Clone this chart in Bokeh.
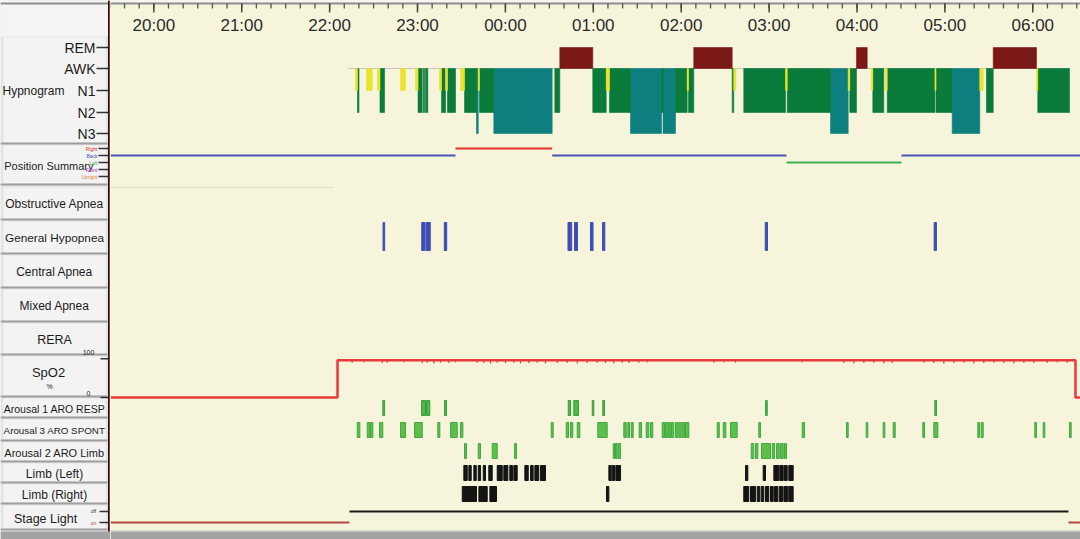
from bokeh.plotting import figure
from bokeh.layouts import row
from bokeh.models import Range1d
from bokeh.core.properties import value
from bokeh.embed import file_html
from bokeh.resources import INLINE

# ---------------- data (clock hours; values > 24 are after midnight) ----------------
rec_start, rec_end = 19.507, 30.543
hour_ticks = [20, 21, 22, 23, 24, 25, 26, 27, 28, 29, 30]
hour_labels = ["20:00", "21:00", "22:00", "23:00", "00:00", "01:00",
               "02:00", "03:00", "04:00", "05:00", "06:00"]

stage_names = ["REM", "AWK", "N1", "N2", "N3"]
hyp_start = [22.215, 22.295, 22.317, 22.334, 22.420, 22.485, 22.545, 22.573, 22.625, 22.807,
             22.864, 22.977, 23.006, 23.053, 23.065, 23.080, 23.091, 23.117, 23.250, 23.273,
             23.319, 23.341, 23.432, 23.489, 23.535, 23.671, 23.691, 23.705, 23.868, 24.532,
             24.562, 24.619, 24.994, 25.147, 25.184, 25.423, 25.776, 25.793, 25.935, 26.068,
             26.083, 26.143, 26.580, 26.598, 26.623, 26.712, 27.187, 27.206, 27.699, 27.900,
             27.918, 27.994, 28.116, 28.162, 28.180, 28.305, 28.324, 28.344, 28.887, 28.899,
             29.083, 29.397, 29.436, 29.473, 29.550, 30.042, 30.057]
hyp_stage = ["AWK", "N1", "N2", "AWK", "N1", "AWK", "N1", "N2", "AWK", "N1",
             "AWK", "N1", "N2", "AWK", "N2", "AWK", "N2", "AWK", "N1", "N2",
             "N1", "N2", "AWK", "N1", "N2", "N3", "N1", "N2", "N3", "AWK",
             "N2", "REM", "N2", "N1", "N2", "N3", "N2", "N3", "N2", "N1",
             "N2", "REM", "N2", "N1", "AWK", "N2", "N1", "N2", "N3", "N1",
             "N2", "REM", "AWK", "N1", "N2", "AWK", "N1", "N2", "N1", "N2",
             "N3", "N1", "AWK", "N2", "REM", "N1", "N2"]
hyp_end = 30.418

position_names = ["Right", "Back", "Left", "Front", "Upright"]
pos_start = [rec_start, 23.432, 24.532, 27.198, 28.506]
pos_value = ["Back", "Right", "Back", "Left", "Back"]

hypopnea = [(22.608, 22.626), (23.048, 23.085), (23.097, 23.145), (23.305, 23.332),
            (24.712, 24.754), (24.786, 24.820), (24.968, 24.997), (25.105, 25.131),
            (26.956, 26.982), (28.878, 28.904)]

spo2_t = [rec_start, 22.090, 22.090, 30.486, 30.486, rec_end]
spo2_v = [0, 0, 96, 96, 0, 0]
spo2_dip_t = [22.257, 22.389, 22.599, 22.655, 22.844, 23.054, 23.111, 23.186, 23.262, 23.356,
              23.432, 23.679, 23.754, 23.831, 23.907, 24.001, 24.096, 24.172, 24.266, 24.362,
              24.456, 24.590, 24.703, 24.817, 24.931, 25.045, 25.139, 25.233, 25.329, 25.404,
              25.518, 25.613, 26.371, 26.485, 26.618, 27.377, 27.850, 27.964, 28.078, 28.191,
              28.305, 28.401, 28.760, 28.874, 28.988, 29.102, 29.215, 29.329, 29.443, 29.557,
              29.670, 29.784, 29.898, 30.012, 30.164, 30.278, 30.392]
spo2_dip_v = [90, 91, 89, 90, 91, 89, 90, 88, 90, 89,
              91, 90, 89, 88, 90, 89, 90, 88, 89, 90,
              88, 89, 90, 88, 89, 90, 89, 88, 90, 89,
              90, 91, 90, 91, 90, 91, 89, 88, 89, 90,
              88, 89, 90, 89, 88, 89, 90, 88, 89, 90,
              89, 88, 90, 89, 90, 91, 90]

arousal_resp = [(22.605, 22.625), (23.046, 23.091), (23.103, 23.140), (23.307, 23.330),
                (24.715, 24.741), (24.778, 24.832), (24.988, 25.006), (25.108, 25.128),
                (26.959, 26.979), (28.885, 28.905)]
arousal_spont = [(22.314, 22.344), (22.428, 22.457), (22.465, 22.492), (22.568, 22.605),
                 (22.807, 22.864), (22.966, 23.054), (23.231, 23.254), (23.376, 23.452),
                 (23.489, 23.516), (24.521, 24.544), (24.692, 24.718), (24.741, 24.767),
                 (24.817, 24.847), (25.051, 25.158), (25.347, 25.375), (25.393, 25.412),
                 (25.431, 25.454), (25.522, 25.549), (25.602, 25.632), (25.651, 25.677),
                 (25.784, 25.810), (25.822, 25.852), (25.859, 25.882), (25.890, 25.916),
                 (25.935, 25.962), (25.973, 26.000), (26.012, 26.038), (26.049, 26.087),
                 (26.410, 26.433), (26.478, 26.508), (26.561, 26.637), (26.883, 26.902),
                 (27.377, 27.403), (27.881, 27.900), (28.105, 28.123), (28.298, 28.317),
                 (28.412, 28.435), (28.749, 28.768), (28.874, 28.920), (29.375, 29.394),
                 (29.413, 29.436), (30.023, 30.042), (30.119, 30.137), (30.418, 30.437)]
arousal_limb = [(23.535, 23.558), (23.691, 23.717), (23.850, 23.907), (24.104, 24.126),
                (25.227, 25.241), (25.253, 25.272), (25.284, 25.310), (26.797, 26.826),
                (26.846, 26.872), (26.914, 27.016), (27.036, 27.062), (27.085, 27.115),
                (27.130, 27.161), (27.175, 27.198)]
limb_left = [(23.527, 23.566), (23.584, 23.611), (23.641, 23.668), (23.691, 23.717),
             (23.748, 23.774), (23.811, 23.850), (23.907, 23.964), (23.982, 24.028),
             (24.050, 24.081), (24.096, 24.134), (24.221, 24.260), (24.286, 24.316),
             (24.335, 24.380), (24.400, 24.456), (25.177, 25.204), (25.215, 25.241),
             (25.256, 25.310), (26.732, 26.758), (26.933, 26.959), (27.054, 27.111),
             (27.122, 27.161), (27.175, 27.206), (27.224, 27.274)]
limb_right = [(23.509, 23.671), (23.698, 23.793), (23.823, 23.899), (25.150, 25.177),
              (26.712, 26.769), (26.789, 26.846), (26.865, 26.894), (26.910, 26.940),
              (26.959, 26.997), (27.016, 27.047), (27.062, 27.099), (27.115, 27.153),
              (27.168, 27.213), (27.224, 27.274)]

light_start = [rec_start, 22.226, 30.406]
light_state = ["on", "off", "on"]

track_names = ["Hypnogram", "Position Summary", "Obstructive Apnea", "General Hypopnea",
               "Central Apnea", "Mixed Apnea", "RERA", "SpO2", "Arousal 1 ARO RESP",
               "Arousal 3 ARO SPONT", "Arousal 2 ARO Limb", "Limb (Left)", "Limb (Right)",
               "Stage Light"]

assert len(hyp_start) == len(hyp_stage)
assert len(spo2_dip_t) == len(spo2_dip_v)

# ---------------- layout / style ----------------
H = 539
LEFT_W = 110
MAIN_W = 1080 - LEFT_W
CREAM = "#f6f5dc"
FONT = value("Liberation Sans")
TXT = "#1c1c1c"

track_box = {  # top, bottom (px from top)
    "Hypnogram": (37, 142), "Position Summary": (145, 183), "Obstructive Apnea": (187, 218),
    "General Hypopnea": (221, 252), "Central Apnea": (255, 286), "Mixed Apnea": (289, 320),
    "RERA": (323, 353), "SpO2": (356, 395), "Arousal 1 ARO RESP": (398, 416),
    "Arousal 3 ARO SPONT": (419, 439), "Arousal 2 ARO Limb": (442, 460),
    "Limb (Left)": (463, 481), "Limb (Right)": (484, 502), "Stage Light": (505, 528),
}
label_size = {"Obstructive Apnea": "12px", "General Hypopnea": "11.8px", "Central Apnea": "12px",
              "Mixed Apnea": "12px", "RERA": "12.5px", "Arousal 1 ARO RESP": "10.5px",
              "Arousal 3 ARO SPONT": "9.8px", "Arousal 2 ARO Limb": "11px",
              "Limb (Left)": "12px", "Limb (Right)": "12px"}
stage_y = {"REM": 47, "AWK": 68, "N1": 90, "N2": 112, "N3": 133}
stage_color = {"REM": "#7a1818", "N1": "#ebe32c", "N2": "#0a7b3a", "N3": "#0d7f7f"}
pos_y = {"Right": 148, "Back": 155, "Left": 162, "Front": 169, "Upright": 176}
pos_color = {"Right": "#e2312f", "Back": "#4a55b3", "Left": "#3cb04c",
             "Front": "#a030c0", "Upright": "#e08a30"}
light_y = {"off": 511, "on": 522}
light_color = {"off": "#1a1a1a", "on": "#b24a44"}
SPO2_ZERO, SPO2_SCALE = 397.0, 0.387


def spo2_y(v):
    return SPO2_ZERO - v * SPO2_SCALE


def base_fig(width, xr):
    f = figure(width=width, height=H, x_range=xr, y_range=Range1d(H, 0),
               output_backend="svg", toolbar_location=None, min_border=0,
               x_axis_location=None, y_axis_location=None, outline_line_color=None)
    f.grid.visible = False
    return f


# ---------------- main chart ----------------
p = base_fig(MAIN_W, Range1d(rec_start, rec_end))
p.background_fill_color = CREAM
p.border_fill_color = CREAM

# top ruler
p.quad(left=rec_start, right=rec_end, top=0, bottom=2, fill_color="#f2f2f2", line_color=None)
p.segment(x0=[rec_start], y0=[3], x1=[rec_end], y1=[3], line_color="#8e8e8e", line_width=2)
minor = [k / 6 for k in range(117, 184)]
p.segment(x0=minor, y0=3, x1=minor, y1=8, line_color="#555555", line_width=1.3)
p.segment(x0=hour_ticks, y0=3, x1=hour_ticks, y1=12, line_color="#444444", line_width=1.5)
p.text(x=hour_ticks, y=[25] * len(hour_ticks), text=hour_labels, text_align="center",
       text_baseline="middle", text_font=FONT, text_font_size="17px", text_color="#2b2b2b")

# hypnogram
p.segment(x0=[hyp_start[0]], y0=[stage_y["AWK"]], x1=[hyp_end], y1=[stage_y["AWK"]],
          line_color="#c4c4c4", line_width=1)
ends = hyp_start[1:] + [hyp_end]
for st in ["N3", "N2", "N1", "REM"]:
    L, R, T, B = [], [], [], []
    for s, e, g in zip(hyp_start, ends, hyp_stage):
        if g != st:
            continue
        L.append(s)
        R.append(e)
        if g == "REM":
            T.append(stage_y["REM"]); B.append(stage_y["AWK"])
        else:
            T.append(stage_y["AWK"]); B.append(stage_y[g])
    p.quad(left=L, right=R, top=T, bottom=B, fill_color=stage_color[st],
           line_color=stage_color[st], line_width=0.6)

# position summary
pos_end = pos_start[1:] + [rec_end]
for s, e, v in zip(pos_start, pos_end, pos_value):
    p.segment(x0=[s], y0=[pos_y[v]], x1=[e], y1=[pos_y[v]], line_color=pos_color[v], line_width=2)
p.segment(x0=[rec_start], y0=[187], x1=[22.044], y1=[187], line_color="#dedccb", line_width=1)


def events(ev, top, bottom, fill, line):
    p.quad(left=[a for a, b in ev], right=[b for a, b in ev], top=top, bottom=bottom,
           fill_color=fill, line_color=line, line_width=1)


events(hypopnea, 222, 250, "#3f4db3", "#3f4db3")

# SpO2
p.line(x=spo2_t, y=[spo2_y(v) for v in spo2_v], line_color="#e8393a", line_width=2.5)
p.segment(x0=spo2_dip_t, y0=[spo2_y(96)] * len(spo2_dip_t), x1=spo2_dip_t,
          y1=[spo2_y(v) for v in spo2_dip_v], line_color="#e8393a", line_width=1.2)

events(arousal_resp, 400, 415, "#52b848", "#3a9e3e")
events(arousal_spont, 422, 437, "#5cbf4a", "#43a843")
events(arousal_limb, 443, 458, "#5cbf4a", "#43a843")
events(limb_left, 465, 480, "#141414", "#141414")
events(limb_right, 486, 501, "#141414", "#141414")

# stage light
light_end = light_start[1:] + [rec_end]
for s, e, v in zip(light_start, light_end, light_state):
    p.segment(x0=[s], y0=[light_y[v]], x1=[e], y1=[light_y[v]], line_color=light_color[v],
              line_width=2)

# bottom strip
p.quad(left=rec_start, right=rec_end, top=530, bottom=H, fill_color="#a3a3a3", line_color=None)
p.segment(x0=[rec_start], y0=[530.5], x1=[rec_end], y1=[530.5], line_color="#e0e0e0", line_width=1)

# ---------------- left label panel ----------------
lp = base_fig(LEFT_W, Range1d(0, LEFT_W))
lp.background_fill_color = "#e4e4e4"
lp.border_fill_color = "#e4e4e4"
lp.quad(left=0, right=LEFT_W, top=0, bottom=36, fill_color="#f4f4f4", line_color=None)
lp.segment(x0=[0], y0=[3], x1=[LEFT_W], y1=[3], line_color="#8e8e8e", line_width=2)

tops = [track_box[n][0] for n in track_names]
bots = [track_box[n][1] for n in track_names]
lp.quad(left=3, right=105, top=tops, bottom=bots, fill_color="#f3f3f3", line_color=None)
lp.segment(x0=[0] * len(bots), y0=[b + 1 for b in bots], x1=[107] * len(bots),
           y1=[b + 1 for b in bots], line_color="#9e9e9e", line_width=2)

centered = ["Obstructive Apnea", "General Hypopnea", "Central Apnea", "Mixed Apnea", "RERA",
            "Arousal 1 ARO RESP", "Arousal 3 ARO SPONT", "Arousal 2 ARO Limb",
            "Limb (Left)", "Limb (Right)"]
for n in centered:
    lp.text(x=[54], y=[(track_box[n][0] + track_box[n][1]) / 2 + 1], text=[n],
            text_align="center", text_baseline="middle", text_font=FONT,
            text_font_size=label_size[n], text_color=TXT)
lp.text(x=[2], y=[90], text=["Hypnogram"], text_align="left", text_baseline="middle",
        text_font=FONT, text_font_size="12px", text_color=TXT)
lp.text(x=[93], y=[165], text=["Position Summary"], text_align="right", text_baseline="middle",
        text_font=FONT, text_font_size="11px", text_color=TXT)
lp.text(x=[48], y=[372], text=["SpO2"], text_align="center", text_baseline="middle",
        text_font=FONT, text_font_size="13px", text_color=TXT)
lp.text(x=[49], y=[386], text=["%"], text_align="center", text_baseline="middle",
        text_font=FONT, text_font_size="7px", text_color=TXT)
lp.text(x=[45], y=[518], text=["Stage Light"], text_align="center", text_baseline="middle",
        text_font=FONT, text_font_size="12.5px", text_color=TXT)

# stage axis
lp.text(x=[95] * 5, y=[stage_y[s] for s in stage_names], text=stage_names, text_align="right",
        text_baseline="middle", text_font=FONT, text_font_size="14px", text_color=TXT)
lp.segment(x0=[96] * 5, y0=[stage_y[s] for s in stage_names], x1=[108] * 5,
           y1=[stage_y[s] for s in stage_names], line_color="#333333", line_width=1.5)
# position axis
lp.text(x=[97] * 5, y=[pos_y[s] for s in position_names], text=position_names,
        text_align="right", text_baseline="middle", text_font=FONT, text_font_size="5px",
        text_color=[pos_color[s] for s in position_names])
lp.segment(x0=[98] * 5, y0=[pos_y[s] for s in position_names], x1=[108] * 5,
           y1=[pos_y[s] for s in position_names], line_color="#333333", line_width=1.3)
# SpO2 axis
lp.text(x=[88, 88], y=[352, 393], text=["100", "0"], text_align="center",
        text_baseline="middle", text_font=FONT, text_font_size="7px", text_color=TXT)
lp.segment(x0=[100, 100], y0=[spo2_y(100), spo2_y(0)], x1=[108, 108],
           y1=[spo2_y(100), spo2_y(0)], line_color="#333333", line_width=1.5)
# light axis
lp.text(x=[93, 93], y=[light_y["off"] - 1, light_y["on"]], text=["off", "on"],
        text_align="center", text_baseline="middle", text_font=FONT, text_font_size="5px",
        text_color=["#333333", "#b24a44"])
lp.segment(x0=[99, 99], y0=[light_y["off"], light_y["on"]], x1=[108, 108],
           y1=[light_y["off"], light_y["on"]], line_color="#333333", line_width=1.3)

# bottom strip and separator line
lp.quad(left=0, right=LEFT_W, top=530, bottom=H, fill_color="#a3a3a3", line_color=None)
lp.segment(x0=[0], y0=[530.5], x1=[LEFT_W], y1=[530.5], line_color="#e0e0e0", line_width=1)
lp.quad(left=107.5, right=109.2, top=0, bottom=531, fill_color="#2a0c0c", line_color=None)
lp.quad(left=109.2, right=110, top=0, bottom=531, fill_color="#c03030", line_color=None)

layout = row(lp, p)
open("out.html", "w").write(file_html(layout, INLINE))
